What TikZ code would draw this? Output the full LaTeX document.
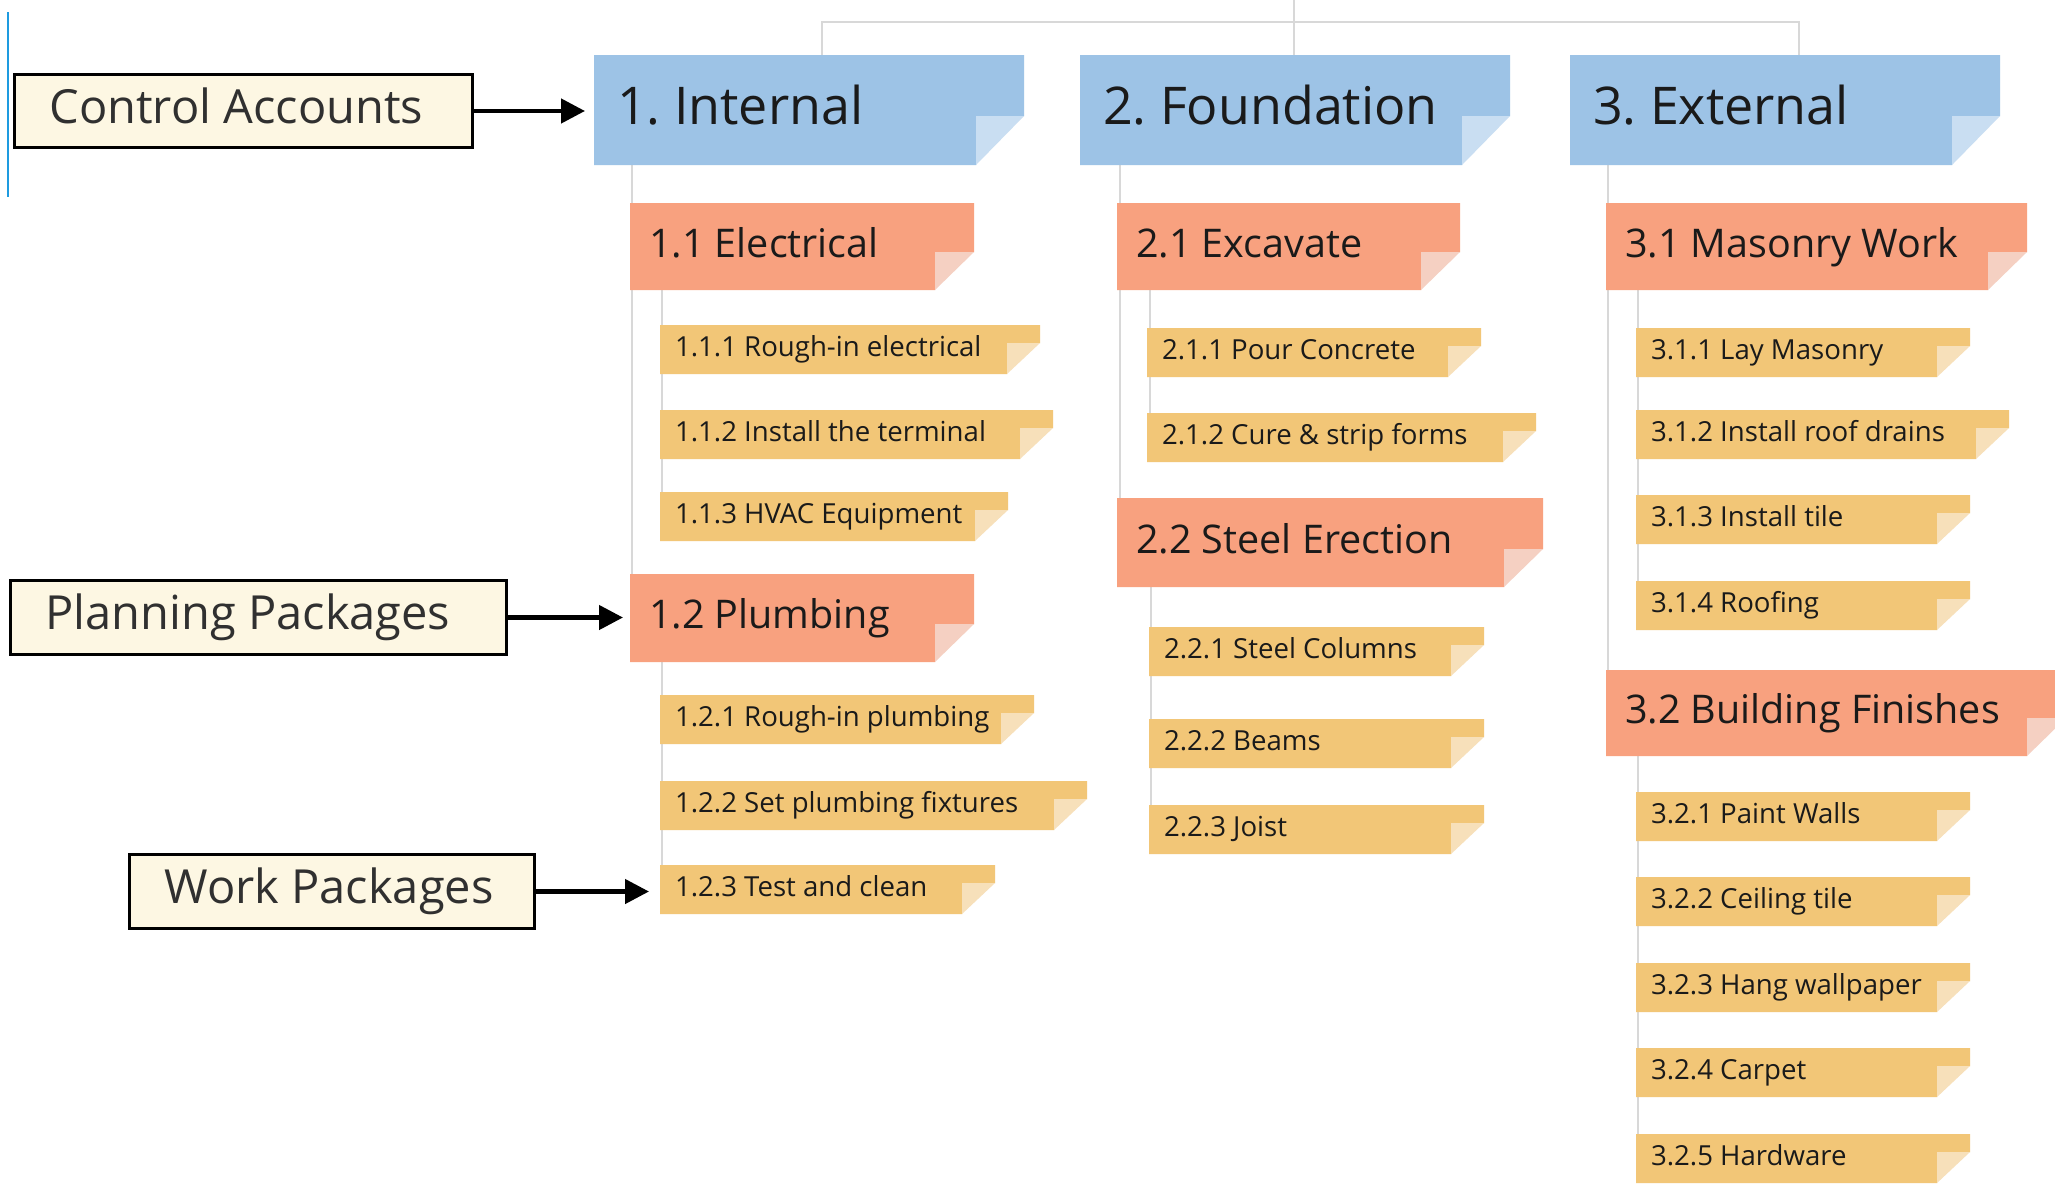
\documentclass[tikz,border=0pt]{standalone}
\usepackage{fontspec}
\setmainfont{Open Sans}
\usetikzlibrary{arrows.meta,backgrounds,calc}

\definecolor{lonecol}{HTML}{9DC3E6}
\definecolor{lonefold}{HTML}{C9DEF2}
\definecolor{ltwocol}{HTML}{F8A17F}
\definecolor{ltwofold}{HTML}{F5D0C2}
\definecolor{lthreecol}{HTML}{F2C677}
\definecolor{lthreefold}{HTML}{F7E0BA}
\definecolor{labfill}{HTML}{FDF7E3}
\definecolor{linkgray}{HTML}{D8D8D8}
\definecolor{txtcol}{HTML}{1A1A1A}
\definecolor{labtxt}{HTML}{303030}
\definecolor{cursorblue}{HTML}{1E9BE0}

\tikzset{
  foldbox/.style n args={4}{inner sep=0pt, outer sep=0pt, anchor=north west, text=txtcol,
    path picture={
      \fill[#1] (path picture bounding box.north west) -- (path picture bounding box.north east)
        -- ([yshift=#4]path picture bounding box.south east)
        -- ([xshift=-#3,yshift=#4]path picture bounding box.south east)
        -- ([xshift=-#3]path picture bounding box.south east)
        -- (path picture bounding box.south west) -- cycle;
      \fill[#2] ([xshift=-#3,yshift=#4]path picture bounding box.south east)
        -- ([yshift=#4]path picture bounding box.south east)
        -- ([xshift=-#3]path picture bounding box.south east) -- cycle;
    }},
  lvlone/.style={foldbox={lonecol}{lonefold}{48pt}{49pt},
    font=\fontsize{52}{60}\selectfont, text height=37pt, text depth=9pt,
    /utils/exec=\def\wbspad{23pt}},
  lvltwo/.style={foldbox={ltwocol}{ltwofold}{39pt}{38pt},
    font=\fontsize{39.5}{46}\selectfont, text height=28pt, text depth=7pt,
    /utils/exec=\def\wbspad{19pt}},
  lvlthree/.style={foldbox={lthreecol}{lthreefold}{33pt}{31pt},
    font=\fontsize{27.6}{32}\selectfont, text height=19.5pt, text depth=5pt,
    /utils/exec=\def\wbspad{15pt}},
  labelbox/.style={draw=black, line width=3pt, fill=labfill, inner sep=0pt,
    anchor=north west, text=labtxt, font=\fontsize{47}{54}\selectfont,
    text height=33pt, text depth=9pt, /utils/exec=\def\wbspad{35pt}},
  link/.style={draw=linkgray, line width=2.5pt},
  arr/.style={line width=4.5pt, -{Triangle[length=24pt,width=24pt]}},
}

\newcommand\wbs[7]{%
  \pgfmathsetmacro\wbsw{#5-#3}\pgfmathsetmacro\wbsh{#6-#4}%
  \node[#1, minimum width=\wbsw pt, minimum height=\wbsh pt] (#2) at (#3,#4)
    {\makebox[\wbsw pt][l]{\hspace*{\wbspad}#7}};%
}

\begin{document}
\frenchspacing
\begin{tikzpicture}[x=1pt, y=-1pt]
\useasboundingbox (0,0) rectangle (2055,1186);
\clip (0,0) rectangle (2055,1186);

% level 1
\wbs{lvlone}{n1}{594}{55}{1024}{165}{1. Internal}
\wbs{lvlone}{n2}{1080}{55}{1510}{165}{2. Foundation}
\wbs{lvlone}{n3}{1570}{55}{2000}{165}{3. External}

% level 2
\wbs{lvltwo}{n11}{630}{203}{974}{290}{1.1 Electrical}
\wbs{lvltwo}{n12}{630}{574}{974}{662}{1.2 Plumbing}
\wbs{lvltwo}{n21}{1117}{203}{1460}{290}{2.1 Excavate}
\wbs{lvltwo}{n22}{1117}{498}{1543}{587}{2.2 Steel Erection}
\wbs{lvltwo}{n31}{1606}{203}{2027}{290}{3.1 Masonry Work}
\wbs{lvltwo}{n32}{1606}{670}{2066}{756}{3.2 Building Finishes}

% level 3
\wbs{lvlthree}{n111}{660}{325}{1040}{374}{1.1.1 Rough-in electrical}
\wbs{lvlthree}{n112}{660}{410}{1053}{459}{1.1.2 Install the terminal}
\wbs{lvlthree}{n113}{660}{492}{1008}{541}{1.1.3 HVAC Equipment}
\wbs{lvlthree}{n121}{660}{695}{1034}{744}{1.2.1 Rough-in plumbing}
\wbs{lvlthree}{n122}{660}{781}{1087}{830}{1.2.2 Set plumbing fixtures}
\wbs{lvlthree}{n123}{660}{865}{995}{914}{1.2.3 Test and clean}
\wbs{lvlthree}{n211}{1147}{328}{1481}{377}{2.1.1 Pour Concrete}
\wbs{lvlthree}{n212}{1147}{413}{1536}{462}{2.1.2 Cure \& strip forms}
\wbs{lvlthree}{n221}{1149}{627}{1484}{676}{2.2.1 Steel Columns}
\wbs{lvlthree}{n222}{1149}{719}{1484}{768}{2.2.2 Beams}
\wbs{lvlthree}{n223}{1149}{805}{1484}{854}{2.2.3 Joist}
\wbs{lvlthree}{n311}{1636}{328}{1970}{377}{3.1.1 Lay Masonry}
\wbs{lvlthree}{n312}{1636}{410}{2009}{459}{3.1.2 Install roof drains}
\wbs{lvlthree}{n313}{1636}{495}{1970}{544}{3.1.3 Install tile}
\wbs{lvlthree}{n314}{1636}{581}{1970}{630}{3.1.4 Roofing}
\wbs{lvlthree}{n321}{1636}{792}{1970}{841}{3.2.1 Paint Walls}
\wbs{lvlthree}{n322}{1636}{877}{1970}{926}{3.2.2 Ceiling tile}
\wbs{lvlthree}{n323}{1636}{963}{1970}{1012}{3.2.3 Hang wallpaper}
\wbs{lvlthree}{n324}{1636}{1048}{1970}{1097}{3.2.4 Carpet}
\wbs{lvlthree}{n325}{1636}{1134}{1970}{1183}{3.2.5 Hardware}

% side labels
\wbs{labelbox}{ca}{13}{73}{471}{146}{Control Accounts}
\wbs{labelbox}{pp}{9}{579}{505}{653}{Planning Packages}
\wbs{labelbox}{wp}{128}{853}{533}{927}{Work Packages}

\draw[arr, shorten >=9pt] (ca.east) -- (ca.east -| n1.west);
\draw[arr, shorten >=7pt] (pp.east) -- (pp.east -| n12.west);
\draw[arr, shorten >=11pt] (wp.east) -- (wp.east -| n123.west);

% stray cursor line at the left edge
\draw[cursorblue, line width=2.5pt] (8,12) -- (8,197);

\begin{pgfonlayer}{background}
  \fill[white] (0,0) rectangle (2055,1186);
  % top bus
  \coordinate (root) at (1294,0);
  \path ($(n1.north west)+(228,0)$) coordinate (ta)
        ($(n2.north west)+(214,0)$) coordinate (tb)
        ($(n3.north west)+(229,0)$) coordinate (tc);
  \draw[link] (ta) -- ++(0,-33) -| (tc);
  \draw[link] (root) -- (tb);
  % level 1 -> level 2
  \path ($(n12.north west)+(2,0)$) coordinate (va)
        ($(n22.north west)+(3,0)$) coordinate (vb)
        ($(n32.north west)+(2,0)$) coordinate (vc);
  \draw[link] (va) -- (va |- n1.south);
  \draw[link] (vb) -- (vb |- n2.south);
  \draw[link] (vc) -- (vc |- n3.south);
  % level 2 -> level 3
  \path ($(n113.north west)+(2,0)$) coordinate (wa)
        ($(n123.north west)+(2,0)$) coordinate (wb)
        ($(n212.north west)+(3,0)$) coordinate (wc)
        ($(n223.north west)+(2,0)$) coordinate (wd)
        ($(n314.north west)+(2,0)$) coordinate (we)
        ($(n325.north west)+(2,0)$) coordinate (wf);
  \draw[link] (wa) -- (wa |- n11.south);
  \draw[link] (wb) -- (wb |- n12.south);
  \draw[link] (wc) -- (wc |- n21.south);
  \draw[link] (wd) -- (wd |- n22.south);
  \draw[link] (we) -- (we |- n31.south);
  \draw[link] (wf) -- (wf |- n32.south);
\end{pgfonlayer}
\end{tikzpicture}
\end{document}
